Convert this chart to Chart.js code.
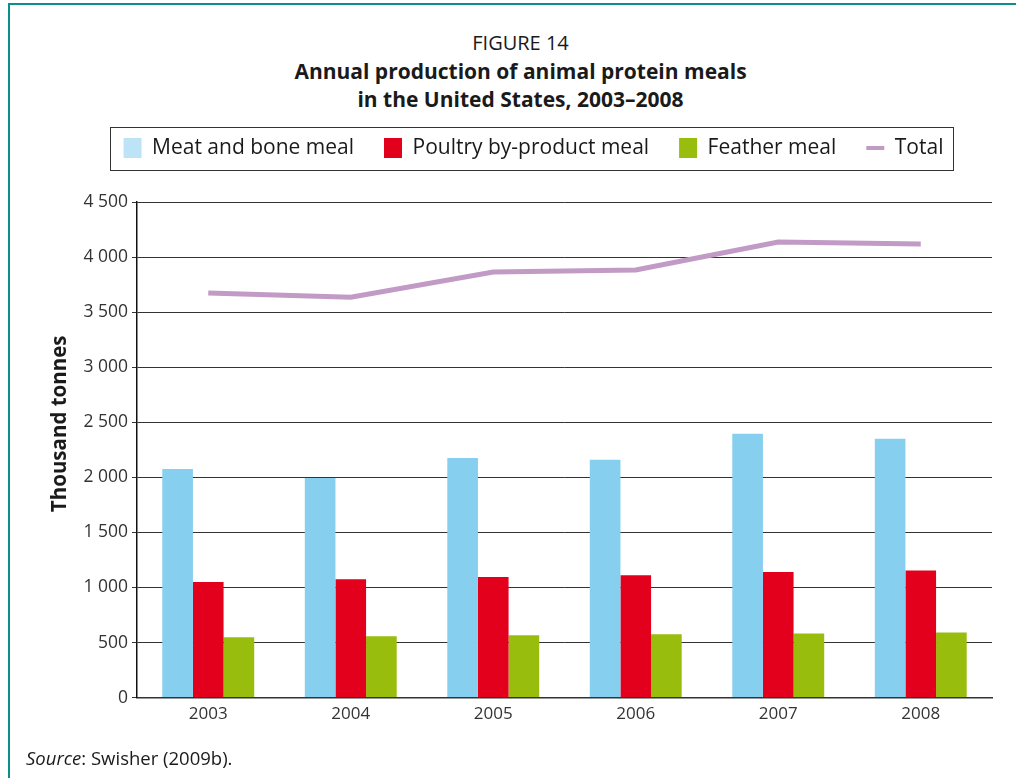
<!DOCTYPE html>
<html>
<head>
<meta charset="utf-8">
<script src="https://cdn.jsdelivr.net/npm/chart.js@4/dist/chart.umd.min.js"></script>
<style>
  html, body { margin: 0; padding: 0; background: #fff; }
  body { width: 1016px; height: 778px; position: relative; overflow: hidden; font-family: "Open Sans", sans-serif; color: #1a1a1a; }
  #frame { position: absolute; left: 8px; top: 3px; width: 1010px; height: 780px; border-top: 2px solid #0a8f8a; border-left: 2px solid #0a8f8a; }
  #head { position: absolute; left: 0; top: 29px; width: 1041px; text-align: center; font-size: 20px; line-height: 28px; }
  #head .b { font-weight: bold; font-size: 21px; }
  #c { position: absolute; left: 0; top: 0; }
  #source { position: absolute; left: 26px; top: 745px; font-size: 18.5px; line-height: 26px; }
</style>
</head>
<body>
<div id="frame"></div>
<div id="head">
  <div>FIGURE 14</div>
  <div class="b">Annual production of animal protein meals</div>
  <div class="b">in the United States, 2003–2008</div>
</div>
<canvas id="c" width="1016" height="778"></canvas>
<div id="source"><i>Source</i>: Swisher (2009b).</div>
<script>
  // thousand tonnes
  const years = ['2003', '2004', '2005', '2006', '2007', '2008'];
  const meatAndBone = [2075, 1995, 2175, 2160, 2395, 2350];
  const poultry = [1050, 1075, 1095, 1110, 1140, 1155];
  const feather = [548, 556, 566, 575, 583, 592];
  const total = [3673, 3636, 3864, 3882, 4136, 4118];
  const yTicks = [0, 500, 1000, 1500, 2000, 2500, 3000, 3500, 4000, 4500];

  const blue = '#87cfef';
  const legendBlue = '#bde4f6';
  const red = '#e2001d';
  const green = '#99bd0d';
  const purple = '#c29ac6';
  const legendGap = 33.5;

  function spaced(v) {
    return String(v).replace(/\B(?=(\d{3})+(?!\d))/g, ' ');
  }

  // stretch the legend box so the plot starts lower, and frame it
  const legendFrame = {
    id: 'legendFrame',
    beforeLayout(chart) {
      const lg = chart.legend;
      if (lg && !lg._stretched) {
        const fit = lg.fit;
        lg.fit = function () { fit.call(this); this.height += legendGap; };
        lg._stretched = true;
      }
    },
    afterDraw(chart) {
      const hb = chart.legend.legendHitBoxes;
      if (!hb || !hb.length) return;
      const last = hb[hb.length - 1];
      const x0 = Math.round(hb[0].left - 14) + 0.5;
      const x1 = Math.round(last.left + last.width + 10) + 0.5;
      const cy = hb[0].top + hb[0].height / 2;
      const y0 = Math.round(cy - 21) + 0.5;
      const ctx = chart.ctx;
      ctx.save();
      ctx.strokeStyle = '#333';
      ctx.lineWidth = 1;
      ctx.strokeRect(x0, y0, x1 - x0, 43);
      ctx.restore();
    }
  };

  const yTitle = {
    id: 'yTitle',
    afterDraw(chart) {
      const ctx = chart.ctx;
      const area = chart.chartArea;
      ctx.save();
      ctx.translate(chart.scales.y.left - 15, (area.top + area.bottom) / 2 - 26);
      ctx.rotate(-Math.PI / 2);
      ctx.font = 'bold 20.5px "Open Sans"';
      ctx.fillStyle = '#1a1a1a';
      ctx.textAlign = 'center';
      ctx.textBaseline = 'middle';
      ctx.fillText('Thousand tonnes', 0, 0);
      ctx.restore();
    }
  };

  new Chart(document.getElementById('c'), {
    type: 'bar',
    data: {
      labels: years,
      datasets: [
        { label: 'Meat and bone meal', data: meatAndBone, backgroundColor: blue },
        { label: 'Poultry by-product meal', data: poultry, backgroundColor: red },
        { label: 'Feather meal', data: feather, backgroundColor: green },
        {
          type: 'line', label: 'Total', data: total,
          borderColor: purple, backgroundColor: purple, borderWidth: 5,
          pointRadius: 0, tension: 0, fill: false
        }
      ]
    },
    options: {
      responsive: false,
      animation: false,
      layout: { padding: { top: 107.5, left: 75, right: 24, bottom: 48 } },
      datasets: { bar: { barPercentage: 1, categoryPercentage: 0.645, borderWidth: 0 } },
      plugins: {
        tooltip: { enabled: false },
        title: { display: false },
        legend: {
          position: 'top',
          labels: {
            usePointStyle: true,
            pointStyleWidth: 18,
            boxHeight: 20,
            padding: 30,
            color: '#1a1a1a',
            font: { family: 'Open Sans', size: 21 },
            generateLabels(chart) {
              const items = Chart.defaults.plugins.legend.labels.generateLabels(chart);
              items.sort((a, b) => a.datasetIndex - b.datasetIndex);
              items.forEach(it => {
                if (it.datasetIndex === 3) {
                  it.pointStyle = 'line';
                  it.strokeStyle = purple;
                  it.lineWidth = 4;
                } else {
                  it.pointStyle = 'rect';
                  it.lineWidth = 0;
                  if (it.datasetIndex === 0) it.fillStyle = legendBlue;
                }
              });
              return items;
            }
          }
        }
      },
      scales: {
        x: {
          grid: { display: false, drawTicks: false },
          border: { display: true, color: '#333', width: 1.5 },
          ticks: { color: '#333', padding: 6, font: { family: 'Open Sans', size: 17 } }
        },
        y: {
          min: 0,
          max: 4500,
          afterFit(scale) { scale.width = 62; },
          afterBuildTicks(scale) { scale.ticks = yTicks.map(v => ({ value: v })); },
          grid: { color: '#333', lineWidth: 1, tickLength: 5 },
          border: { display: true, color: '#111', width: 1.5 },
          ticks: {
            color: '#333', padding: 4,
            font: { family: 'Open Sans', size: 17.5 },
            callback: v => spaced(v)
          }
        }
      }
    },
    plugins: [legendFrame, yTitle]
  });
</script>
</body>
</html>
